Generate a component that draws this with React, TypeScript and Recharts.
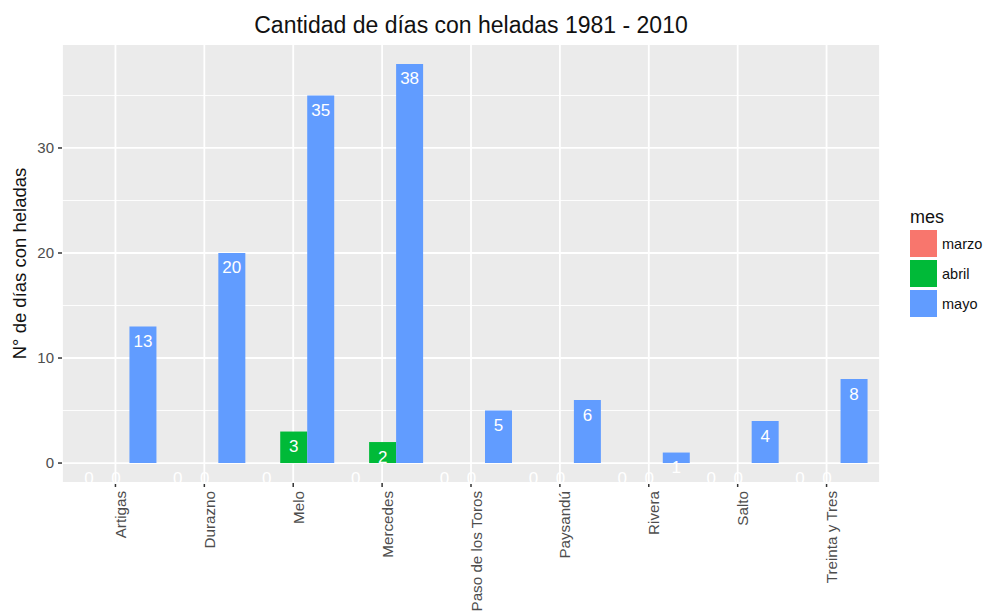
import React from "react";
import { BarChart, Bar, XAxis, YAxis, CartesianGrid, LabelList } from "recharts";

// Estaciones y días con heladas por mes (1981 - 2010)
const estaciones = [
  "Artigas",
  "Durazno",
  "Melo",
  "Mercedes",
  "Paso de los Toros",
  "Paysandú",
  "Rivera",
  "Salto",
  "Treinta y Tres",
];
const marzo = [0, 0, 0, 0, 0, 0, 0, 0, 0];
const abril = [0, 0, 3, 2, 0, 0, 0, 0, 0];
const mayo = [13, 20, 35, 38, 5, 6, 1, 4, 8];

const yDomain = [-1.9, 39.9];
const yTicks = [0, 10, 20, 30];
const yMinorTicks = [5, 15, 25, 35];

const series = [
  { key: "marzo", color: "#F8766D" },
  { key: "abril", color: "#00BA38" },
  { key: "mayo", color: "#619CFF" },
];

const data = estaciones.map((estacion, i) => ({
  estacion,
  marzo: marzo[i],
  abril: abril[i],
  mayo: mayo[i],
}));

const FONT = "'Liberation Sans', Arial, Helvetica, sans-serif";

// minor grid lines, mapped through the y scale (or the plot offset as fallback)
const minorLines = (p: any) => {
  const scale = p?.yAxis?.scale;
  if (typeof scale === "function") return yMinorTicks.map((v) => scale(v));
  if (scale && typeof scale.map === "function") return yMinorTicks.map((v) => scale.map(v));
  const off = p?.offset;
  if (!off) return [];
  return yMinorTicks.map(
    (v) => off.top + ((yDomain[1] - v) / (yDomain[1] - yDomain[0])) * off.height
  );
};

const BarLabel = (props: any) => {
  const { x, y, width, height, value } = props;
  // zero bars get a tiny minPointSize, so anchor on the baseline
  const top = Number(height) < 0.5 ? Number(y) + Number(height) : Number(y);
  return (
    <text
      x={Number(x) + Number(width) / 2}
      y={top + 15}
      textAnchor="middle"
      dominantBaseline="central"
      fill="#ffffff"
      fontSize={17}
      fontFamily={FONT}
    >
      {value}
    </text>
  );
};

const XTick = (props: any) => {
  const { x, y, payload } = props;
  return (
    <g transform={`translate(${x},${y})`}>
      <text
        transform="rotate(-90)"
        x={-2}
        y={10.5}
        textAnchor="end"
        fill="#4D4D4D"
        fontSize={15.2}
        fontFamily={FONT}
      >
        {payload.value}
      </text>
    </g>
  );
};

const App = () => {
  return (
    <div
      style={{
        position: "absolute",
        left: 0,
        top: 0,
        width: 987,
        height: 614,
        background: "#ffffff",
        fontFamily: FONT,
      }}
    >
      <BarChart
        width={987}
        height={614}
        data={data}
        margin={{ top: 44, right: 107, bottom: 0, left: 0 }}
        barCategoryGap="5%"
        barGap={0}
      >
        <CartesianGrid fill="#EBEBEB" stroke="#ffffff" strokeWidth={1.8} />
        <CartesianGrid
          vertical={false}
          fill="none"
          stroke="#ffffff"
          strokeWidth={0.9}
          horizontalCoordinatesGenerator={minorLines}
        />
        <XAxis
          dataKey="estacion"
          height={131}
          padding={{ left: 9, right: 9 }}
          axisLine={false}
          tickLine={{ stroke: "#333333", strokeWidth: 1.5 }}
          tickSize={4}
          interval={0}
          tick={<XTick />}
        />
        <YAxis
          width={62}
          domain={yDomain}
          ticks={yTicks}
          allowDataOverflow
          axisLine={false}
          tickLine={{ stroke: "#333333", strokeWidth: 1.5 }}
          tickSize={4}
          tickMargin={4}
          tick={{ fill: "#4D4D4D", fontSize: 15, fontFamily: FONT }}
        />
        {series.map((s) => (
          <Bar
            key={s.key}
            dataKey={s.key}
            fill={s.color}
            minPointSize={0.01}
            isAnimationActive={false}
          >
            <LabelList dataKey={s.key} content={<BarLabel />} />
          </Bar>
        ))}
      </BarChart>
      <svg
        width={987}
        height={614}
        style={{ position: "absolute", left: 0, top: 0, pointerEvents: "none" }}
      >
        <text x={471} y={32.5} textAnchor="middle" fontSize={23} fill="#111111" fontFamily={FONT}>
          Cantidad de días con heladas 1981 - 2010
        </text>
        <text
          transform="translate(26,263.5) rotate(-90)"
          textAnchor="middle"
          fontSize={18.5}
          fill="#111111"
          fontFamily={FONT}
        >
          N° de días con heladas
        </text>
        <text x={910} y={223} fontSize={18} fill="#111111" fontFamily={FONT}>
          mes
        </text>
        {series.map((s, i) => (
          <g key={s.key}>
            <rect x={910} y={230 + i * 30} width={27} height={27} fill={s.color} />
            <text
              x={942}
              y={243.5 + i * 30}
              dominantBaseline="central"
              fontSize={14.5}
              fill="#111111"
              fontFamily={FONT}
            >
              {s.key}
            </text>
          </g>
        ))}
      </svg>
    </div>
  );
};

export default App;
